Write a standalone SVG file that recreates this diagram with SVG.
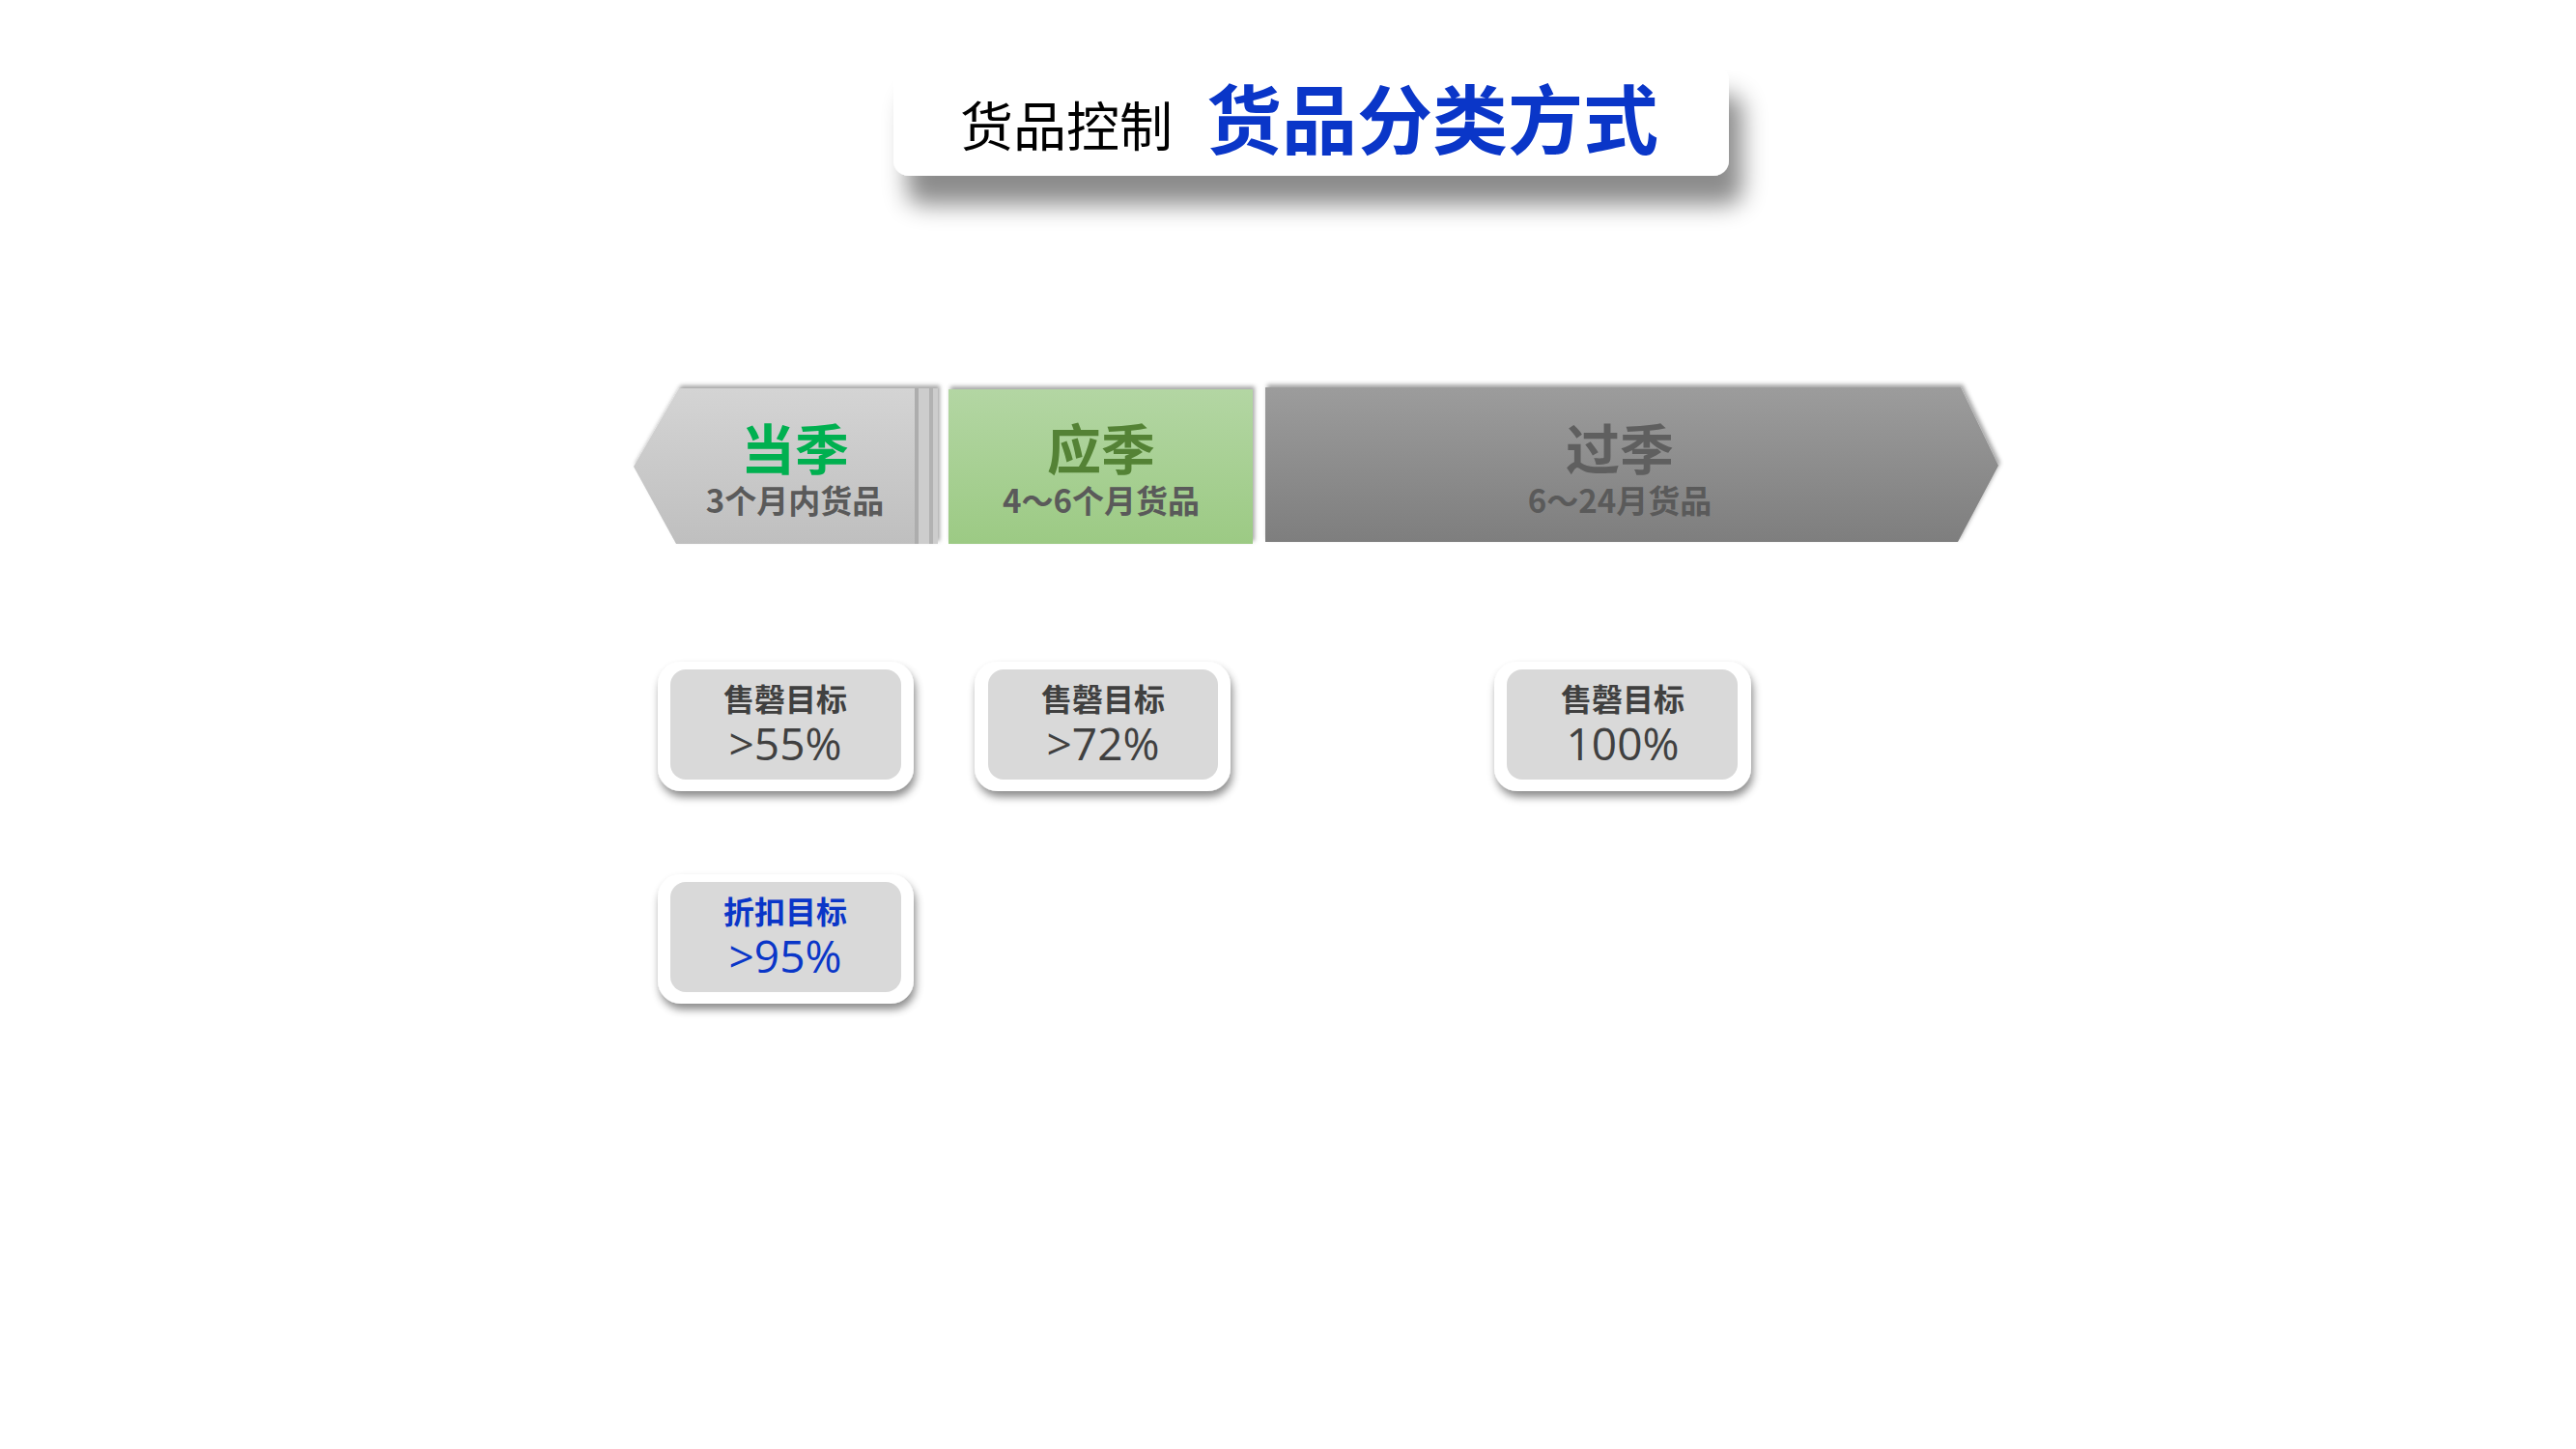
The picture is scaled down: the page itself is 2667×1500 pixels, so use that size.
<svg xmlns="http://www.w3.org/2000/svg" width="2667" height="1500" viewBox="0 0 2667 1500">
<style>
.cjk{font-family:"Noto Sans CJK SC","Liberation Sans",sans-serif}
.num{font-family:"Open Sans","Noto Sans","Noto Sans CJK SC",sans-serif}
.seg{font-weight:700;text-anchor:middle}
.sub{font-weight:700;font-size:33px;fill:#5a5a5a;text-anchor:middle}
.btitle{font-weight:700;font-size:32px;text-anchor:middle}
.bval{font-weight:400;font-size:46px;text-anchor:middle}
.outer{fill:#ffffff}
.inner{fill:#d9d9d9}
</style>
<defs>
<filter id="tsh" x="-10%" y="-50%" width="130%" height="260%">
<feDropShadow dx="14" dy="30" stdDeviation="12" flood-color="#000" flood-opacity="0.45"/>
</filter>
<filter id="ssh" x="-10%" y="-20%" width="120%" height="140%">
<feDropShadow dx="2" dy="-3" stdDeviation="2" flood-color="#000" flood-opacity="0.35"/>
</filter>
<filter id="bsh" x="-10%" y="-20%" width="125%" height="150%">
<feDropShadow dx="2" dy="6" stdDeviation="4" flood-color="#000" flood-opacity="0.45"/>
</filter>
<linearGradient id="gL" x1="0" y1="0" x2="0" y2="1"><stop offset="0" stop-color="#d4d4d4"/><stop offset="1" stop-color="#bfbfbf"/></linearGradient>
<linearGradient id="gG" x1="0" y1="0" x2="0" y2="1"><stop offset="0" stop-color="#b3d6a3"/><stop offset="1" stop-color="#9cca84"/></linearGradient>
<linearGradient id="gR" x1="0" y1="0" x2="0" y2="1"><stop offset="0" stop-color="#9c9c9c"/><stop offset="1" stop-color="#7e7e7e"/></linearGradient>
</defs>
<rect width="2667" height="1500" fill="#ffffff"/>

<g id="title">
<rect x="925" y="68" width="865" height="114" rx="16" fill="#ffffff" filter="url(#tsh)"/>
<text class="cjk" x="994" y="151" font-size="55" fill="#000000">货品控制</text>
<text class="cjk" x="1249" y="154" font-size="78" font-weight="700" fill="#0a36c8">货品分类方式</text>
</g>

<g id="seg-current">
<g filter="url(#ssh)">
<rect x="951" y="402" width="20" height="161" fill="#cdcdcd"/>
<rect x="962" y="402" width="4" height="161" fill="#b2b2b2"/>
<path d="M703 402 L951 402 L951 563 L700 563 L656 483 Z" fill="url(#gL)"/>
<rect x="947" y="402" width="4" height="161" fill="#adadad"/>
</g>
<text class="cjk seg" x="823" y="486" font-size="56" fill="#00b050">当季</text>
<text class="cjk sub" x="823" y="531">3个月内货品</text>
</g>

<g id="seg-due">
<rect x="982" y="403" width="315" height="160" fill="url(#gG)" filter="url(#ssh)"/>
<text class="cjk seg" x="1140" y="486" font-size="56" fill="#548235">应季</text>
<text class="cjk sub" x="1140" y="531">4～6个月货品</text>
</g>

<g id="seg-past">
<path d="M1310 401 L2030 401 L2069 482 L2027 561 L1310 561 Z" fill="url(#gR)" filter="url(#ssh)"/>
<text class="cjk seg" x="1677" y="486" font-size="56" fill="#5f5f5f">过季</text>
<text class="cjk sub" x="1677" y="531" fill="#5f5f5f">6～24月货品</text>
</g>

<g id="box-current">
<rect class="outer" x="681" y="685" width="265" height="134" rx="24" filter="url(#bsh)"/>
<rect class="inner" x="694" y="693" width="239" height="114" rx="16"/>
<text class="cjk btitle" x="813" y="736" fill="#404040">售磬目标</text>
<text class="num bval" x="813" y="787" fill="#404040">&gt;55%</text>
</g>

<g id="box-due">
<rect class="outer" x="1009" y="685" width="265" height="134" rx="24" filter="url(#bsh)"/>
<rect class="inner" x="1023" y="693" width="238" height="114" rx="16"/>
<text class="cjk btitle" x="1142" y="736" fill="#404040">售磬目标</text>
<text class="num bval" x="1142" y="787" fill="#404040">&gt;72%</text>
</g>

<g id="box-past">
<rect class="outer" x="1547" y="685" width="266" height="134" rx="24" filter="url(#bsh)"/>
<rect class="inner" x="1560" y="693" width="239" height="114" rx="16"/>
<text class="cjk btitle" x="1680" y="736" fill="#404040">售磬目标</text>
<text class="num bval" x="1680" y="787" fill="#404040">100%</text>
</g>

<g id="box-discount">
<rect class="outer" x="681" y="905" width="265" height="134" rx="24" filter="url(#bsh)"/>
<rect class="inner" x="694" y="913" width="239" height="114" rx="16"/>
<text class="cjk btitle" x="813" y="956" fill="#0a36c8">折扣目标</text>
<text class="num bval" x="813" y="1007" fill="#0a36c8">&gt;95%</text>
</g>

<g id="connectors"></g>
</svg>
